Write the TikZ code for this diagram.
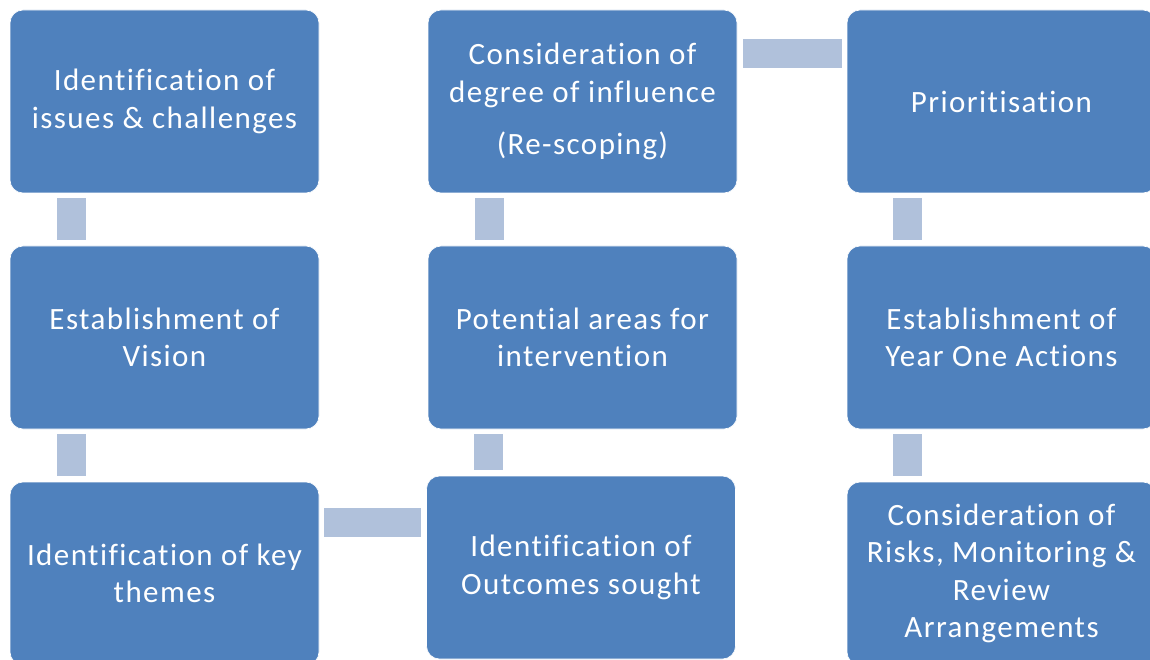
\documentclass[tikz,border=0pt]{standalone}
\usepackage{fontspec}
\setmainfont{Carlito}[LetterSpace=4.6,Ligatures=NoCommon]
\definecolor{boxblue}{HTML}{4F81BD}
\definecolor{connblue}{HTML}{B0C1DB}
\begin{document}
\begin{tikzpicture}[x=1pt,y=-1pt,
  box/.style={rectangle, rounded corners=13pt, fill=boxblue, draw=white, line width=0.6pt,
    minimum width=309pt, minimum height=183pt, inner sep=0pt, align=center,
    text=white, font=\fontsize{31}{37.5}\selectfont},
  conn/.style={draw=connblue, line width=29pt, line cap=butt}]
\useasboundingbox (0,0) rectangle (1150,660);
\clip (0,0) rectangle (1150,660);
\fill[white] (0,0) rectangle (1150,660);
% boxes
\node[box] (issues) at (164.5,101.5) {Identification of\\issues \& challenges};
\node[box] (vision) at (164.5,337.5) {Establishment of\\Vision};
\node[box] (themes) at (164.5,573.5) {Identification of key\\themes};
\node[box] (outcomes) at (581,567.5) {Identification of\\Outcomes sought};
\node[box] (potential) at (582.5,337.5) {Potential areas for\\intervention};
\node[box] (degree) at (582.5,101.5) {Consideration of\\degree of influence\\[15pt](Re-scoping)};
\node[box] (prio) at (1001.5,101.5) {Prioritisation};
\node[box] (year) at (1001.5,337.5) {Establishment of\\Year One Actions};
\node[box] (risks) at (1001.5,573.5) {Consideration of\\Risks, Monitoring \&\\Review\\Arrangements};
% connectors
\draw[conn, shorten <=5pt, shorten >=6pt] ([xshift=-93pt]issues.south) -- ([xshift=-93pt]vision.north);
\draw[conn, shorten <=5pt, shorten >=6pt] ([xshift=-93pt]vision.south) -- ([xshift=-93pt]themes.north);
\draw[conn, shorten <=5pt, shorten >=5pt] ([yshift=51pt]themes.east) -- ([yshift=45pt]outcomes.west);
\draw[conn, shorten <=6pt, shorten >=5pt] ([xshift=-92.5pt]outcomes.north) -- ([xshift=-94pt]potential.south);
\draw[conn, shorten <=6pt, shorten >=5pt] ([xshift=-93pt]potential.north) -- ([xshift=-93pt]degree.south);
\draw[conn, shorten <=6pt, shorten >=5pt] ([yshift=48pt]degree.east) -- ([yshift=48pt]prio.west);
\draw[conn, shorten <=5pt, shorten >=6pt] ([xshift=-94pt]prio.south) -- ([xshift=-94pt]year.north);
\draw[conn, shorten <=5pt, shorten >=6pt] ([xshift=-94pt]year.south) -- ([xshift=-94pt]risks.north);
\end{tikzpicture}
\end{document}
